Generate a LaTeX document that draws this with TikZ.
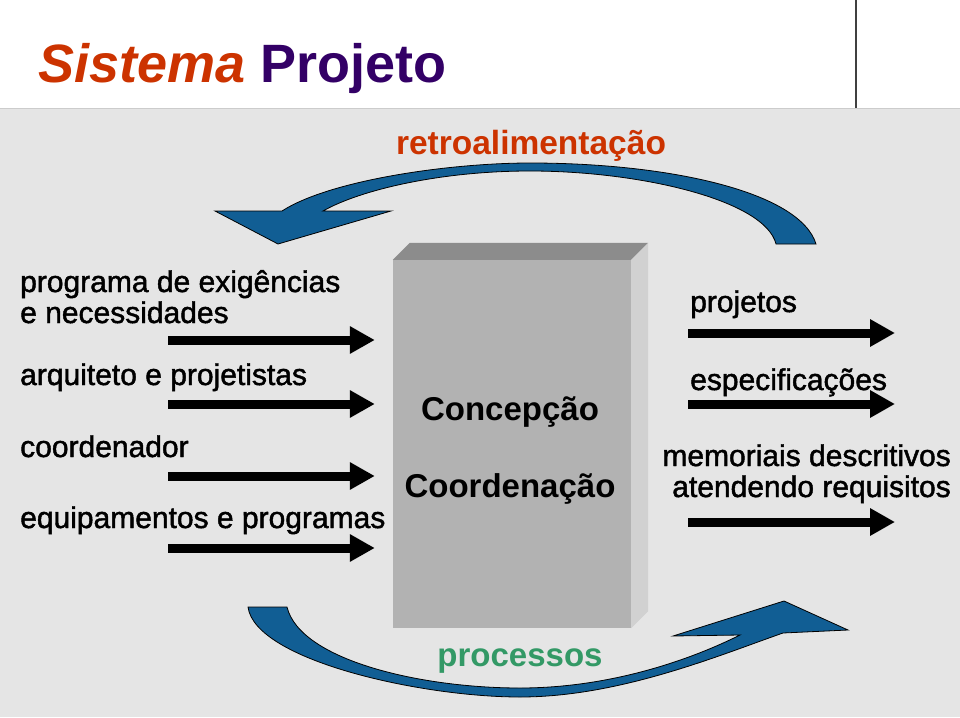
\documentclass[tikz,border=0pt]{standalone}
\usepackage{fontspec}
\setmainfont{Liberation Sans}
\newfontfamily\grossa[FakeBold=1.5]{Liberation Sans}
\usetikzlibrary{arrows.meta,positioning}

\definecolor{laranja}{HTML}{CC3300}
\definecolor{roxo}{HTML}{330066}
\definecolor{verde}{HTML}{339966}
\definecolor{azul}{HTML}{115E94}
\definecolor{fundo}{HTML}{E5E5E5}

\begin{document}
\begin{tikzpicture}[x=1pt,y=-1pt,
rotulo/.style={font=\grossa\fontsize{30pt}{31pt}\selectfont, inner sep=0pt},
seta/.style={line width=9pt, -{Triangle[length=25pt,width=26pt]}},
curva/.style={fill=azul, draw=black, line width=0.8pt},
caixa/.style={rectangle, fill=black!30, minimum width=238pt, minimum height=368pt, inner sep=0pt},
destaque/.style={font=\fontsize{33pt}{36pt}\selectfont\bfseries, anchor=base, inner sep=0pt},
]
\useasboundingbox (0,0) rectangle (960,717);

% Fundo
\fill[fundo] (0,108) rectangle (960,717);
\draw[black!20, line width=1pt] (0,108) -- (960,108);
\draw[black!75, line width=1.5pt] (856,0) -- (856,108);

% Titulo
\node[anchor=base west, inner sep=0pt, font=\fontsize{54pt}{60pt}\selectfont\bfseries] (titulo) at (38,82)
  {\textcolor{laranja}{\itshape Sistema} \textcolor{roxo}{Projeto}};

% Caixa central
\node[caixa] (caixa) at (512,444) {};
\fill[black!45] (caixa.north west) -- ++(17,-17) -- ([shift={(17,-17)}]caixa.north east) -- (caixa.north east) -- cycle;
\fill[black!18] (caixa.north east) -- ++(17,-17) -- ([shift={(17,-17)}]caixa.south east) -- (caixa.south east) -- cycle;
\node[destaque] (conc) at (510,420) {Concepção};
\node[destaque] (coord) at (510,497) {Coordenação};

% Entradas
\node[rotulo, anchor=base west, align=left] (prog) at (20,323) {programa de exigências\\e necessidades};
\node[rotulo, anchor=base west] (arq) at (20,385) {arquiteto e projetistas};
\node[rotulo, anchor=base west] (coo) at (20,457) {coordenador};
\node[rotulo, anchor=base west] (equip) at (20,528) {equipamentos e programas};

\coordinate (e1) at (168,340);
\coordinate (e2) at (168,404);
\coordinate (e3) at (168,476);
\coordinate (e4) at (168,548);
\foreach \i in {1,...,4}
  \draw[seta, shorten >=18pt] (e\i) -- (e\i -| caixa.west);

% Saidas
\node[rotulo, anchor=base west] (proj) at (690,312) {projetos};
\node[rotulo, anchor=base west] (espec) at (690,390) {especificações};
\node[rotulo, anchor=base east, align=right] (memo) at (951,497) {memoriais descritivos\\atendendo requisitos};

\coordinate (s1) at (895,333);
\coordinate (s2) at (895,404);
\coordinate (s3) at (895,522);
\foreach \i in {1,...,3}
  \draw[seta, shorten <=57pt] (s\i -| caixa.east) -- (s\i);

% Retroalimentacao
\node[anchor=base, inner sep=0pt, font=\fontsize{33.5pt}{36pt}\selectfont\bfseries, text=laranja] (retro) at (531,154) {retroalimentação};
\filldraw[curva] (282,211) .. controls (330,180) and (450,163) .. (530,163)
  .. controls (670,163) and (800,192) .. (816,244) -- (776,244)
  .. controls (765,200) and (640,171) .. (530,171)
  .. controls (440,171) and (360,190) .. (323,211)
  -- (391,211) -- (278,244) -- (215,211) -- cycle;

% Processos
\node[anchor=base, inner sep=0pt, font=\fontsize{33pt}{36pt}\selectfont\bfseries, text=verde] (proc) at (520,666) {processos};
\filldraw[curva] (248,607) .. controls (255,660) and (420,697) .. (520,697)
  .. controls (620,697) and (720,655) .. (783,633)
  -- (848,630) -- (784,601) -- (673,636) -- (740,635)
  .. controls (690,660) and (610,688) .. (520,688)
  .. controls (420,688) and (300,660) .. (287,607) -- cycle;

\end{tikzpicture}
\end{document}
